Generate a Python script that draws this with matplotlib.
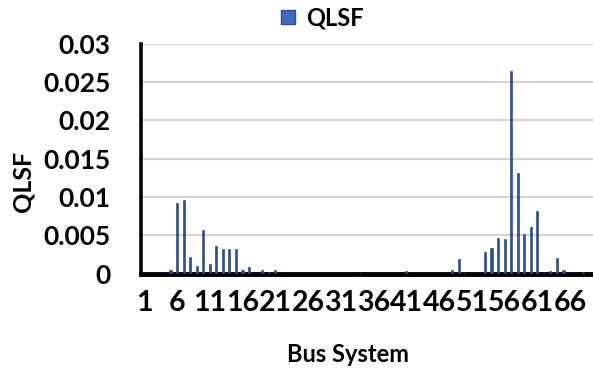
import matplotlib
matplotlib.use("Agg")
import matplotlib.pyplot as plt
from matplotlib.lines import Line2D

buses = list(range(1, 70))
qlsf = [0, 0, 0, 0, 0.0005, 0.0092, 0.0096, 0.0022, 0.0010, 0.0057,
        0.0012, 0.0036, 0.0032, 0.0032, 0.0032, 0.0005, 0.0009, 0, 0.0004, 0.0002,
        0.0004, 0, 0, 0, 0, 0, 0, 0, 0, 0,
        0, 0, 0, 0.0001, 0, 0, 0, 0, 0, 0,
        0.0003, 0, 0, 0, 0, 0, 0, 0.0005, 0.0019, 0.0001,
        0, 0, 0.0028, 0.0033, 0.0046, 0.0045, 0.0265, 0.0132, 0.0051, 0.0061,
        0.0082, 0.0001, 0.0003, 0.0020, 0.0005, 0, 0, 0.0002, 0]
xtick_labels = ["1", "6", "11", "16", "21", "26", "31", "36", "41", "46", "51", "56", "61", "66"]
yticks = [0, 0.005, 0.01, 0.015, 0.02, 0.025, 0.03]
ytick_labels = ["0", "0.005", "0.01", "0.015", "0.02", "0.025", "0.03"]

plt.rcParams['font.family'] = ['Lato', 'DejaVu Sans']
plt.rcParams['font.weight'] = 'bold'

fig = plt.figure(figsize=(5.93, 3.75), dpi=100)
ax = fig.add_axes([141/593, 101.5/375, 452/593, 229.5/375])

bar_color = '#2a4e98'
ax.bar(buses, qlsf, width=0.32, color=bar_color, edgecolor='#1f3d7a', linewidth=0.4, zorder=3)

ax.set_xlim(0.5, 69.5)
ax.set_ylim(0, 0.03)
ax.set_yticks(yticks)
ax.set_yticklabels(ytick_labels, fontsize=19, fontweight='bold')
ax.set_xticks([int(t) for t in xtick_labels])
ax.set_xticklabels(xtick_labels, fontsize=20.5, fontweight='bold')
ax.tick_params(axis='y', length=0, pad=22)
ax.tick_params(axis='x', length=0, pad=12)

ax.grid(axis='y', color='#d4d4d4', linewidth=1.6, zorder=0)
ax.set_axisbelow(True)
for s in ['top', 'right']:
    ax.spines[s].set_visible(False)
ax.spines['left'].set_linewidth(2.6)
ax.spines['left'].set_color('black')
ax.spines['bottom'].set_linewidth(3.5)
ax.spines['bottom'].set_color('black')

ax.set_ylabel("QLSF", fontsize=18, fontweight='bold')
ax.yaxis.set_label_coords(-0.236, 0.40)

fig.text(348/593, 1 - 354/375, "Bus System", ha='center', va='center',
         fontsize=17, fontweight='bold')

handle = Line2D([], [], marker='s', linestyle='none', markersize=10,
                markerfacecolor='#3f6cbf', markeredgecolor='#2b4f95')
fig.legend([handle], ["QLSF"], loc='center', bbox_to_anchor=(320/593, 1 - 18/375),
           frameon=False, prop={'size': 17, 'weight': 'bold'},
           handletextpad=0.25, handlelength=1.0)

fig.savefig("out.png", dpi=100)
